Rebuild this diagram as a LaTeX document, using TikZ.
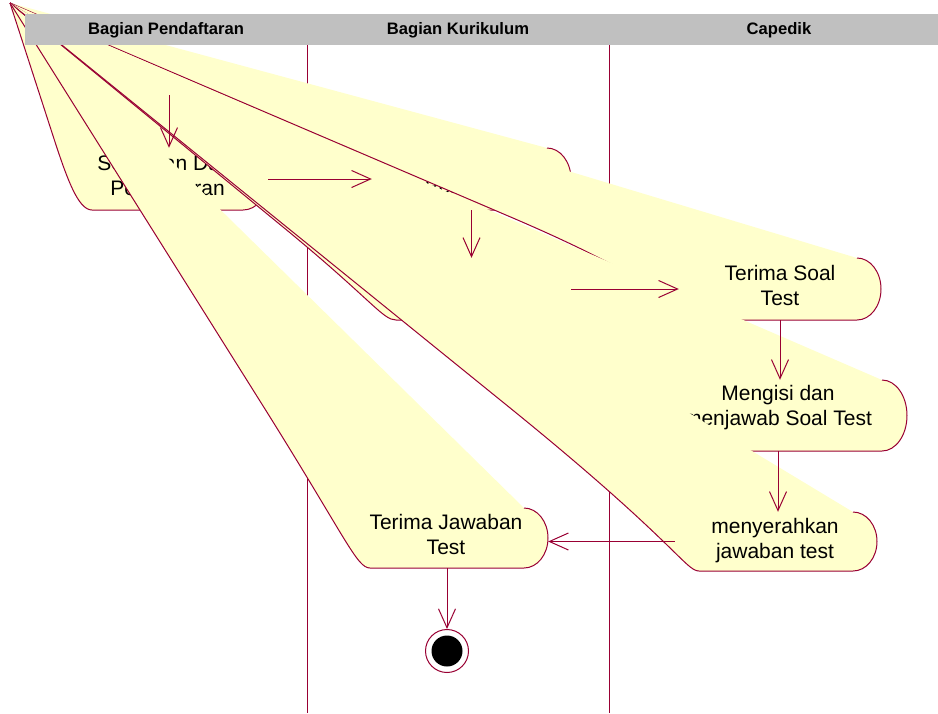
\documentclass[tikz,border=0pt]{standalone}
\usepackage{fontspec}
\setmainfont{Liberation Sans}
\usetikzlibrary{arrows.meta}
\definecolor{lc}{RGB}{153,0,51}
\definecolor{yf}{RGB}{255,255,204}
\definecolor{hg}{RGB}{192,192,192}
% #1 name, #2 x of bottom-left, #3 x of bottom-right, #4 top y, #5 bottom y,
% #6 end radius, #7 y of the left end point, #8 text, #9 text position
\newcommand{\actbox}[9]{%
  \pgfmathsetmacro\aym{(#4+#5)/2}%
  \pgfmathsetmacro\ary{(#5-#4)/2}%
  \pgfmathsetmacro\axl{#2-#6}%
  \pgfmathsetmacro\apx{10+0.75*(\axl-10)}%
  \pgfmathsetmacro\apy{3+0.75*(#7-3)}%
  \pgfmathsetmacro\acx{#2-0.552*#6}%
  \pgfmathsetmacro\awd{#3-#2+2*#6}%
  \pgfmathsetmacro\aht{#5-#4}%
  \pgfmathsetmacro\abx{(#2+#3)/2}%
  \fill[actfill] (apex) -- (\apx,\apy) .. controls (\axl,#7) and (\acx,#5) .. (#2,#5) -- (#3,#5) arc[start angle=90,end angle=-90,x radius=#6,y radius=\ary] -- cycle;
  \draw[actline] (apex) -- (\apx,\apy) .. controls (\axl,#7) and (\acx,#5) .. (#2,#5) -- (#3,#5) arc[start angle=90,end angle=-90,x radius=#6,y radius=\ary];
  \node[inner sep=0pt,minimum width=\awd pt,minimum height=\aht pt] (#1) at (\abx,\aym) {};
  \node[acttext] (#1-t) at #9 {#8};
}
\begin{document}
\begin{tikzpicture}[x=1pt,y=-1pt,
  actline/.style={draw=lc,line width=1pt},
  actfill/.style={fill=yf},
  acttext/.style={font=\fontsize{21}{25}\selectfont,align=center,inner sep=0pt},
  hdrtext/.style={font=\fontsize{16.6}{20}\selectfont\bfseries,inner sep=0pt},
  flow/.style={draw=lc,line width=1pt,-{Straight Barb[length=19pt,width=17pt]}},
  lane/.style={draw=lc,line width=1pt}]
\useasboundingbox (0,0) rectangle (938,713);
\coordinate (apex) at (10,3);
% swimlane separators
\draw[lane] (307,45) -- (307,713);
\draw[lane] (609,45) -- (609,713);
% activities (drawn in order, later fills cover earlier ones)
\actbox{SD}{92}{243}{148}{210}{25}{179}{Serahkan Data\\Pendaftaran}{(167.5,175.5)}
\actbox{M1}{396}{547}{148}{210}{24}{179}{Proses\\Pengujian}{(471.5,176)}
\actbox{M2}{396}{547}{258}{320}{24}{300}{Memberikan\\Soal Test}{(471.5,286)}
\actbox{TS}{703}{857}{258}{320}{24}{289}{Terima Soal\\Test}{(780,285)}
\actbox{MJ}{674}{882}{380}{451}{25}{415.5}{Mengisi dan\\menjawab Soal Test}{(778,407.5)}
\actbox{MY}{699}{853}{512}{571}{24}{541.5}{menyerahkan\\jawaban test}{(775,540.5)}
\actbox{TJ}{370}{524}{508}{568}{24}{538}{Terima Jawaban\\Test}{(446,534.5)}
% header
\fill[hg] (25,14) rectangle (938,45);
\node[hdrtext] (h1) at (166,30) {Bagian Pendaftaran};
\node[hdrtext] (h2) at (458,30) {Bagian Kurikulum};
\node[hdrtext] (h3) at (779,30) {Capedik};
% final state
\node[circle,draw=lc,line width=1pt,fill=white,minimum size=43pt,inner sep=0pt] (END) at (447,651) {};
\fill[black] (END.center) circle[radius=15.5];
% transitions
\coordinate (st) at (169,95);
\draw[flow] (st) -- (st |- SD.north);
\draw[flow] (SD.east) -- (M1.west);
\draw[flow] (M1.south) -- (M2.north);
\draw[flow] (M2.east) -- (TS.west);
\draw[flow] (TS.south) -- (TS.south |- MJ.north);
\draw[flow] (MJ.south) -- (MJ.south |- MY.north);
\draw[flow] (MY.west) -- (MY.west -| TJ.east);
\draw[flow] (TJ.south) -- (END.north);
\end{tikzpicture}
\end{document}
